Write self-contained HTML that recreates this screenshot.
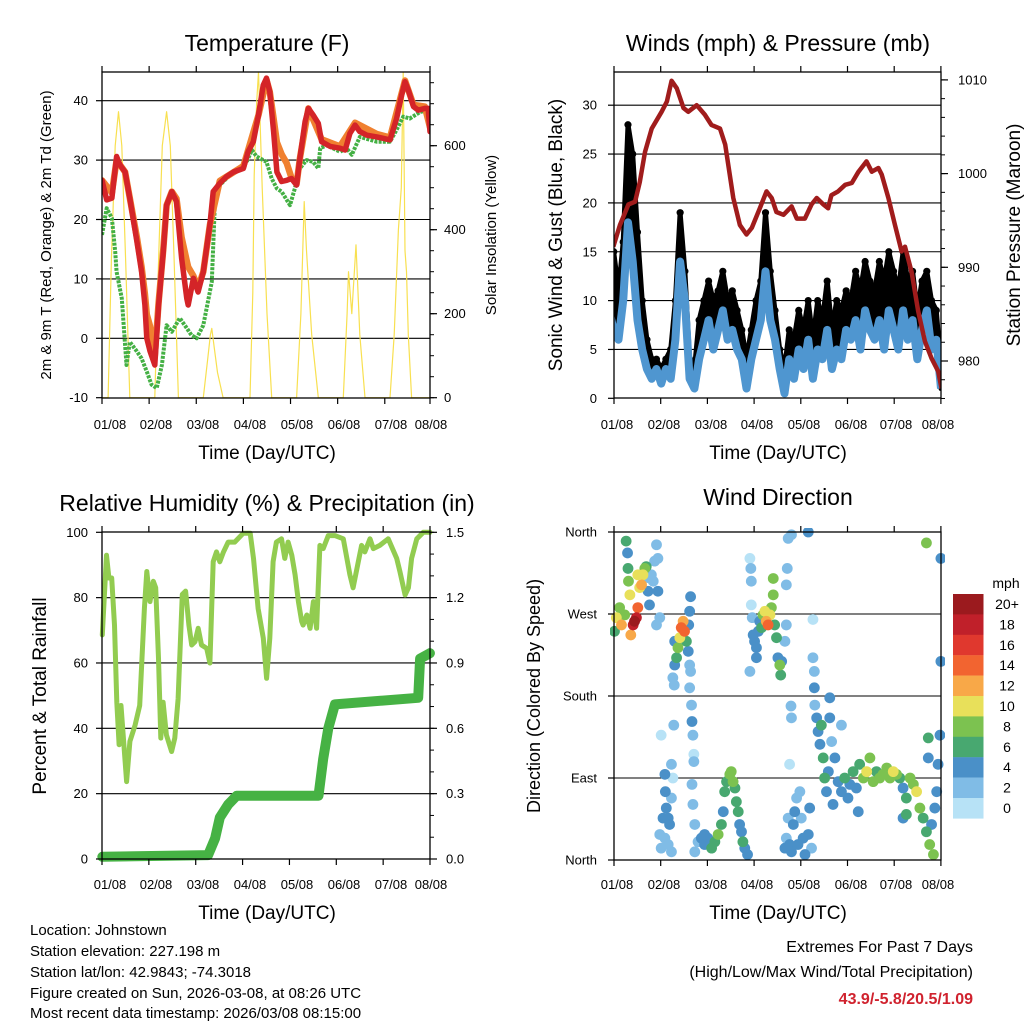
<!DOCTYPE html>
<html><head><meta charset="utf-8">
<style>
html,body{margin:0;padding:0;background:#fff;}
svg{display:block;font-family:"Liberation Sans",sans-serif;}
</style></head>
<body>
<svg id="c" width="1024" height="1024" viewBox="0 0 1024 1024" xmlns="http://www.w3.org/2000/svg">
<rect x="0" y="0" width="1024" height="1024" fill="#fff"/>
<text x="267" y="51" font-size="23" text-anchor="middle">Temperature (F)</text>
<text x="778" y="51" font-size="23" text-anchor="middle">Winds (mph) &amp; Pressure (mb)</text>
<text x="267" y="511" font-size="23" text-anchor="middle">Relative Humidity (%) &amp; Precipitation (in)</text>
<text x="778" y="505" font-size="23" text-anchor="middle">Wind Direction</text>
<text x="267" y="459" font-size="19" text-anchor="middle">Time (Day/UTC)</text>
<text x="778" y="459" font-size="19" text-anchor="middle">Time (Day/UTC)</text>
<text x="267" y="919" font-size="19" text-anchor="middle">Time (Day/UTC)</text>
<text x="778" y="919" font-size="19" text-anchor="middle">Time (Day/UTC)</text>
<text transform="translate(51,235) rotate(-90)" font-size="15" text-anchor="middle">2m &amp; 9m T (Red, Orange) &amp; 2m Td (Green)</text>
<text transform="translate(496,235) rotate(-90)" font-size="15" text-anchor="middle">Solar Insolation (Yellow)</text>
<text transform="translate(562,235) rotate(-90)" font-size="19" text-anchor="middle">Sonic Wind &amp; Gust (Blue, Black)</text>
<text transform="translate(1020,235) rotate(-90)" font-size="19" text-anchor="middle">Station Pressure (Maroon)</text>
<text transform="translate(46,696) rotate(-90)" font-size="19" text-anchor="middle">Percent &amp; Total Rainfall</text>
<text transform="translate(540,696) rotate(-90)" font-size="18" text-anchor="middle">Direction (Colored By Speed)</text>
<g font-size="15">
<text x="30" y="935">Location: Johnstown</text>
<text x="30" y="956">Station elevation: 227.198 m</text>
<text x="30" y="977">Station lat/lon: 42.9843; -74.3018</text>
<text x="30" y="998">Figure created on Sun, 2026-03-08, at 08:26 UTC</text>
<text x="30" y="1018">Most recent data timestamp: 2026/03/08 08:15:00</text>
</g>
<g font-size="16" text-anchor="end">
<text x="973" y="952">Extremes For Past 7 Days</text>
<text x="973" y="977">(High/Low/Max Wind/Total Precipitation)</text>
<text x="973" y="1004" fill="#d0222e" font-weight="bold">43.9/-5.8/20.5/1.09</text>
</g>
</svg>
<script>
// ---- Temperature panel data ----
const tR=[0,.10,.21,.31,.38,.49,.59,.74,.84,.91,.95,1.02,1.12,1.20,1.30,1.37,1.48,1.58,1.69,1.80,1.83,1.94,2.04,2.15,2.29,2.36,2.50,2.64,2.79,3.00,3.10,3.21,3.32,3.42,3.49,3.56,3.64,3.71,3.81,3.92,4.02,4.13,4.20,4.31,4.38,4.48,4.59,4.66,4.84,5.05,5.16,5.26,5.37,5.47,5.62,5.83,6.11,6.25,6.36,6.43,6.50,6.61,6.71,6.85,6.92,6.96];
const vR=[26.6,23.3,23.6,30.6,29.2,28.0,23.6,16.3,11.2,5.6,0.0,-2.2,-4.5,5.6,14.6,22.4,24.7,23.0,13.5,6.7,5.6,10.1,7.8,11.2,19.1,24.7,26.1,27.2,28.0,28.6,31.4,33.1,37.6,42.6,43.8,41.5,34.8,28.0,26.4,26.6,26.9,25.8,30.3,36.5,38.7,37.6,36.2,33.1,32.3,32.0,31.7,34.5,35.9,34.8,34.2,33.9,33.4,37.0,41.0,43.2,41.8,39.0,38.4,38.7,38.7,34.8];
const tO=[0,0.21,0.31,0.49,0.74,0.84,0.91,0.95,1.02,1.12,1.2,1.3,1.37,1.48,1.58,1.69,1.8,1.83,1.94,2.04,2.15,2.29,2.5,3.0,3.32,3.49,3.56,3.64,3.71,3.81,3.92,4.02,4.13,4.2,4.38,4.66,5.05,5.37,5.83,6.11,6.43,6.61,6.85,6.96];
const vO=[26.6,24.5,30,28,17,12,7.5,4,2,-3,6,15,22.4,24.7,23.5,17,13,12,10.5,8.5,11.2,19.1,26.5,29,37.6,43.5,41.5,37,33,31,29.5,27,26,30.3,38.7,33.5,32.3,36.3,34.4,33.8,43.4,39.3,39,35.5];
const tG=[0,.10,.21,.28,.31,.42,.52,.59,.74,.84,.95,1.05,1.16,1.27,1.37,1.48,1.65,1.80,1.90,2.01,2.15,2.33,2.40,2.50,2.64,2.79,3.07,3.18,3.28,3.49,3.60,3.71,3.81,3.99,4.09,4.20,4.34,4.48,4.59,4.63,4.77,5.05,5.19,5.30,5.47,5.83,6.11,6.25,6.39,6.53,6.75,6.92,6.99];
const vG=[17.4,21.9,20.2,14.6,11.2,6.7,-4.5,-0.6,-2.2,-3.4,-5.6,-7.8,-8.4,-4.5,2.2,1.1,3.4,1.7,0.5,0,2.2,9.5,23.6,25.8,26.9,28.0,29.7,31.7,30.6,29.7,26.9,25.2,24.7,22.4,25.2,28.6,30.0,29.7,28.6,32.0,32.5,31.4,32.0,30.9,33.9,33.1,33.1,35.1,37.3,37.0,38.1,38.4,35.9];
const sunT=[0,0.13,0.2,0.28,0.35,0.42,0.5,0.59,1.12,1.2,1.28,1.37,1.45,1.53,1.62,2.15,2.24,2.3,2.33,2.38,2.45,2.57,3.14,3.2,3.23,3.28,3.32,3.4,3.5,3.6,4.13,4.22,4.29,4.34,4.45,4.59,5.12,5.2,5.23,5.3,5.39,5.47,5.58,6.11,6.2,6.29,6.35,6.39,6.43,6.46,6.5,6.57,7.0];
const sunR=[0,0,330,600,681,600,330,0,0,330,600,681,600,330,0,0,90,150,165,120,60,0,0,250,530,700,776,500,200,0,0,200,467,350,150,0,0,200,300,200,364,150,0,0,150,400,500,776,350,300,150,0,0];
const tempTicks=[40,30,20,10,0,-10];
const solarTicks=[0,200,400,600];
const dayLabels=["01/08","02/08","03/08","04/08","05/08","06/08","07/08","08/08"];
// ---- Wind panel data ----
const tP=[.09,.23,.41,.55,.65,.76,.90,1.11,1.22,1.32,1.43,1.57,1.67,1.85,2.02,2.16,2.34,2.45,2.62,2.76,2.90,3.01,3.18,3.32,3.43,3.53,3.68,3.85,3.96,4.13,4.27,4.38,4.52,4.62,4.69,4.83,4.98,5.12,5.26,5.43,5.54,5.68,5.75,5.89,6.03,6.17,6.24,6.38,6.52,6.66,6.80,6.94,7.01];
const vP=[992.2,994.5,996.7,997.0,999.1,1002.3,1004.8,1006.6,1007.7,1009.9,1009.1,1007.0,1006.6,1007.3,1006.3,1005.2,1004.8,1003.1,997.4,994.5,993.5,994.2,996.3,998.1,997.4,995.9,995.6,996.5,995.2,995.2,996.7,997.4,996.7,996.3,997.7,998.1,998.8,999.0,1000.2,1001.3,1000.2,1000.6,999.9,997.4,994.5,991.7,992.2,989.5,985.3,982.1,980.3,978.9,977.1];
const windT=[0,.1,.2,.3,.4,.5,.6,.7,.8,.9,1,1.1,1.2,1.3,1.4,1.5,1.6,1.7,1.8,1.9,2,2.1,2.2,2.3,2.4,2.5,2.6,2.7,2.8,2.9,3,3.1,3.2,3.3,3.4,3.5,3.6,3.7,3.8,3.9,4,4.1,4.2,4.3,4.4,4.5,4.6,4.7,4.8,4.9,5,5.1,5.2,5.3,5.4,5.5,5.6,5.7,5.8,5.9,6,6.1,6.2,6.3,6.4,6.5,6.6,6.7,6.8,6.9,7];
const windV=[9,7,6,10,18,14,8,5,3,2,3,1.5,3,2,6,14,10,2,1,4,6,8,5,7,9,6,7,5,4,1,4,6,8,13,8,6,3,0.5,4,2,5,3,6,2,5,4,7,3,5,4,7,6,8,5,9,7,6,8,5,9,7,5,9,6,8,4,7,9,5,6,1];
const gustV=[14,15,11,16,28,25,17,10,6,4,4,3,4,5,10,19,13,4,3,8,10,12,10,11,13,10,11,9,7,4,7,10,12,19,13,9,5,3,7,6,9,7,10,6,10,8,12,7,10,9,11,10,13,11,14,12,11,14,12,15,13,11,15,12,13,9,12,13,10,9,3];
const windTicks=[0,5,10,15,20,25,30];
const presTicks=[980,990,1000,1010];
// ---- RH panel data ----
const tH=[0,.09,.14,.2,.26,.31,.36,.4,.45,.52,.59,.7,.8,.9,.95,1.02,1.09,1.14,1.2,1.25,1.3,1.37,1.48,1.55,1.62,1.71,1.78,1.85,1.91,1.98,2.05,2.12,2.23,2.3,2.37,2.44,2.51,2.59,2.69,2.83,3.01,3.16,3.23,3.33,3.44,3.51,3.58,3.65,3.72,3.83,3.9,3.97,4.05,4.12,4.19,4.26,4.29,4.37,4.44,4.51,4.58,4.65,4.72,4.83,4.97,5.15,5.29,5.36,5.47,5.54,5.61,5.72,5.79,5.93,6.11,6.29,6.36,6.47,6.54,6.61,6.72,6.86,7.0];
const vH=[68.6,93,86,86,71.6,48,35,47,37,23.7,36,41,47,76.7,88,78.8,85,83,61.4,37,48,38,32.9,37,49,81,82,71.6,65.5,66.5,70.6,65.5,64.5,60,91,94,91,94,97,97,99.7,99.7,92,76.7,67.6,55.3,67.6,91,97,98,92,97,93,87,78.8,72.7,71.6,74.7,70.6,78.8,70.6,96,95,99,99,98,87,83,91,96,94,98,95,96,98,92,88,80.8,83,92,98,100,100];
const tPr=[0,2.26,2.41,2.51,2.69,2.87,4.62,4.72,4.83,4.97,6.75,6.79,7.0];
const vPr=[0.01,0.018,0.095,0.19,0.25,0.29,0.29,0.46,0.6,0.71,0.74,0.92,0.945];
const rhTicks=[0,20,40,60,80,100];
const rainTicks=["0.0","0.3","0.6","0.9","1.2","1.5"];
// ---- Wind direction data ----
const dT=[.01,.05,.12,.16,.23,.26,.29,.30,.31,.34,.36,.41,.44,.48,.51,.51,.55,.59,.62,.66,.69,.73,.76,.80,.84,.87,.91,.94,.91,.98,.94,.73,
1.30,1.34,1.30,1.37,1.41,1.44,1.48,1.51,1.55,1.59,1.62,1.64,1.60,1.26,1.29,1.62,1.62,1.64,1.28,1.66,1.67,1.69,1.71,1.71,1.67,1.69,1.01,
1.09,1.10,1.12,1.16,1.19,1.23,1.26,1.23,.98,1.01,1.16,1.23,1.05,1.09,
1.73,1.80,1.87,1.94,2.01,2.09,2.16,2.23,2.30,2.34,2.37,2.41,2.48,2.51,2.55,2.59,2.62,2.66,2.69,2.73,2.76,2.80,2.86,1.73,1.94,
2.91,2.93,2.94,2.94,2.96,2.98,3.01,3.05,3.09,3.12,3.16,3.19,3.23,3.26,3.30,3.34,3.37,3.41,3.41,3.44,3.48,3.51,3.55,3.57,3.59,3.66,3.69,3.69,3.71,3.73,3.80,2.91,3.05,
3.69,3.73,3.76,3.80,3.84,3.87,3.91,3.94,3.98,4.01,4.05,4.09,4.16,4.19,4.23,3.76,4.16,3.66,3.79,3.80,
4.26,4.26,4.29,4.29,4.30,4.34,4.37,4.41,4.44,4.48,4.51,4.55,4.59,4.62,4.66,4.73,4.80,4.87,4.87,4.69,4.62,
4.94,5.05,5.12,5.19,5.26,5.34,5.41,5.48,5.55,5.62,5.69,5.76,5.84,5.91,5.98,6.05,6.12,6.19,6.26,6.34,6.41,6.48,6.55,6.62,6.69,6.76,6.84,6.80,6.87,6.91,6.94,6.73,6.73,6.98,6.19,6.26,5.01,5.23,6.69,7.0,7.0];
const dDeg=[251,266,277,258,269,350,337,320,306,291,247,258,262,266,277,313,299,302,313,320,322,295,280,313,306,328,346,331,258,266,295,310,
240,222,214,233,244,255,262,251,240,229,273,289,258,200,192,189,214,207,148,170,152,137,116,108,83,61,137,
94,75,57,46,39,105,90,68,28,13,17,9,46,24,
39,20,24,17,24,13,20,28,39,53,75,86,94,97,86,79,64,53,39,31,20,13,6,9,28,
331,320,306,280,266,247,240,233,251,262,255,269,273,262,258,269,277,291,309,258,244,222,214,203,218,240,258,302,320,353,357,207,222,
24,46,17,9,39,53,68,17,75,46,24,6,28,57,13,105,360,13,169,156,
264,222,207,189,170,156,141,127,148,112,90,75,97,178,130,112,86,148,75,61,156,
90,83,97,79,105,90,97,112,86,97,90,94,101,90,97,94,90,79,68,90,83,75,57,46,31,17,6,39,57,75,105,112,134,137,46,50,68,53,348,331,218];
const dSpd=[6,10,8,12,8,6,4,6,8,10,12,18,20,18,14,10,10,12,10,8,6,4,4,2,2,2,2,2,2,2,4,2,
4,6,4,8,10,14,12,14,6,4,4,4,4,2,2,2,2,2,2,2,4,2,0,2,2,2,0,
4,4,4,4,4,2,0,2,2,2,2,2,4,2,
2,2,4,4,4,6,6,8,6,4,6,6,8,8,8,6,6,6,4,4,6,4,4,2,4,
0,2,2,0,2,4,4,4,4,4,6,8,10,12,14,10,8,8,8,6,6,4,8,6,4,2,2,2,2,2,2,2,4,
2,2,4,4,4,4,2,4,2,2,4,4,4,4,2,0,4,4,2,2,
0,2,2,4,2,4,4,4,6,6,6,4,4,4,2,4,4,2,4,4,4,
6,4,6,4,6,8,10,8,8,6,8,8,8,8,10,8,6,4,6,8,8,10,8,6,6,8,8,4,4,4,4,4,6,4,4,6,4,4,8,4,4];
const dirTicks=[360,270,180,90,0];
const dirLabels=["North","West","South","East","North"];
const spdLabels=["20+","18","16","14","12","10","8","6","4","2","0"];
const spdColors=["#b7e2f6","#80bce6","#4a90c8","#48a870","#7cc250","#e8e05a","#f8a848","#f26430","#e0382e","#c0202a","#9b1a1e"];

const svg=document.getElementById('c');
const NS='http://www.w3.org/2000/svg';
function mk(tag,attrs,parent){const e=document.createElementNS(NS,tag);for(const k in attrs)e.setAttribute(k,attrs[k]);(parent||svg).appendChild(e);return e;}
function clip(id,x,y,w,h){const d=mk('defs',{});const c=mk('clipPath',{id:id},d);mk('rect',{x:x,y:y,width:w,height:h},c);}

const P1={x0:102,x1:430,y0:72,y1:398};
const P2={x0:614,x1:941,y0:72,y1:398};
const P3={x0:102,x1:430,y0:532,y1:859};
const P4={x0:614,x1:941,y0:532,y1:860};
const x1=t=>102+47.13*t;
const yT=v=>397.7-(v+10)*5.94;
const yS=v=>397.7-v*0.42;
const x2=t=>609+47.43*t;
const yW=v=>398.3-v*9.77;
const yPr=v=>361-(v-980)*9.37;
const x3=t=>102.3+46.8*t;
const yH=v=>859-v*3.267;
const yRain=v=>859-v/1.5*326.7;
const x4=t=>614+46.7*t;
const yD=v=>860-v/360*328;

clip('c1',P1.x0,P1.y0,P1.x1-P1.x0,P1.y1-P1.y0);
clip('c2',P2.x0,P2.y0,P2.x1-P2.x0,P2.y1-P2.y0);
clip('c3',P3.x0-6,P3.y0-4,P3.x1-P3.x0+12,P3.y1-P3.y0+8);
clip('c4',P4.x0-4,P4.y0-4,P4.x1-P4.x0+8,P4.y1-P4.y0+8);

function frame(P,name){
  const g=mk('g',{});
  
  
  mk('rect',{x:P.x0,y:P.y0,width:P.x1-P.x0,height:P.y1-P.y0,fill:'none',stroke:'#000','stroke-width':1.3},g);
  return g;
}
function hgrid(P,ys,name){
  ys.forEach(y=>{if(y>P.y0+1&&y<P.y1-1){const l=mk('line',{x1:P.x0,x2:P.x1,y1:y,y2:y,stroke:'#000','stroke-width':1.1});
  
  }});
}
function xticks(P,xf,ly,labelPos,name){
  for(let d=0;d<8;d++){const x=Math.min(xf(d),P.x1);
    mk('line',{x1:x,x2:x,y1:P.y1,y2:P.y1+6,stroke:'#000','stroke-width':1.2});
    mk('line',{x1:x,x2:x,y1:P.y0,y2:P.y0-6,stroke:'#000','stroke-width':1.2});
    const t=mk('text',{x:labelPos(d),y:ly,'font-size':13,'text-anchor':'middle'});
    t.textContent=dayLabels[d];
    
    
  }
}
function yticksL(P,vals,yf,labels,lx,name){
  vals.forEach((v,i)=>{const y=yf(v);
    mk('line',{x1:P.x0-6,x2:P.x0,y1:y,y2:y,stroke:'#000','stroke-width':1.2});
    const t=mk('text',{x:lx,y:y+4.5,'font-size':13,'text-anchor':'end'});
    t.textContent=labels?labels[i]:String(v);
    
    
  });
}
function yticksR(P,vals,yf,labels,lx,name,minorStep,lo,hi){
  if(minorStep){for(let v=lo;v<=hi+1e-9;v+=minorStep){const y=yf(v);if(y>=P.y0-0.5&&y<=P.y1+0.5)mk('line',{x1:P.x1,x2:P.x1+4,y1:y,y2:y,stroke:'#000','stroke-width':1});}}
  vals.forEach((v,i)=>{const y=yf(v);
    mk('line',{x1:P.x1,x2:P.x1+7,y1:y,y2:y,stroke:'#000','stroke-width':1.2});
    const t=mk('text',{x:lx,y:y+4.5,'font-size':13,'text-anchor':'start'});
    t.textContent=labels?labels[i]:String(v);
    
    
  });
}
function path(ts,vs,xf,yf){return ts.map((t,i)=>(i?'L':'M')+xf(t).toFixed(1)+','+yf(vs[i]).toFixed(1)).join('');}
const tickPos1=[110,156,203,250,297,344,391,431];
const tickPos2=[617,664,711,757,804,851,896,938];

// ---------- Panel 1 ----------
hgrid(P1,tempTicks.map(yT),'temp');
const g1=mk('g',{'clip-path':'url(#c1)'});


let e;
e=mk('path',{d:path(sunT,sunR,x1,yS),fill:'none',stroke:'#f8e050','stroke-width':1.2,'stroke-linejoin':'round'},g1);


e=mk('path',{d:path(tG,vG,x1,yT),fill:'none',stroke:'#44b044','stroke-width':4,'stroke-dasharray':'3 1.2','stroke-linejoin':'round'},g1);


e=mk('path',{d:path(tO,vO,x1,yT),fill:'none',stroke:'#f08030','stroke-width':6.5,'stroke-linejoin':'round','stroke-linecap':'round'},g1);


e=mk('path',{d:path(tR,vR,x1,yT),fill:'none',stroke:'#d42428','stroke-width':5.5,'stroke-linejoin':'round','stroke-linecap':'round'},g1);


frame(P1,'temp');
xticks(P1,x1,429,d=>tickPos1[d],'temp');
yticksL(P1,tempTicks,yT,null,88,'temp');
yticksR(P1,solarTicks,yS,null,444,'solar',50,0,750);

// ---------- Panel 2 ----------
hgrid(P2,windTicks.map(yW),'wind');
const g2=mk('g',{'clip-path':'url(#c2)'});


const bandD=path(windT,gustV,x2,yW)+windT.slice().reverse().map((t,i)=>'L'+x2(t).toFixed(1)+','+yW(windV[windT.length-1-i]).toFixed(1)).join('')+'Z';
e=mk('path',{d:bandD,fill:'#000',stroke:'#000','stroke-width':5,'stroke-linejoin':'round'},g2);


windT.forEach((t,i)=>{
  const c=mk('circle',{cx:x2(t),cy:yW(gustV[i]),r:3.6,fill:'#000'},g2);
  
  
});
e=mk('path',{d:path(windT,windV,x2,yW),fill:'none',stroke:'#4f96d0','stroke-width':8,'stroke-linejoin':'round'},g2);


e=mk('path',{d:path(tP,vP,x2,yPr),fill:'none',stroke:'#a01c1c','stroke-width':4.5,'stroke-linejoin':'round'},g2);


frame(P2,'wind');
xticks(P2,d=>P2.x0+46.7*d,429,d=>tickPos2[d],'wind');
yticksL(P2,windTicks,yW,null,597,'wind');
yticksR(P2,presTicks,yPr,null,958,'pressure',2,976,1014);

// ---------- Panel 3 ----------
hgrid(P3,rhTicks.map(yH),'rh');
const g3=mk('g',{'clip-path':'url(#c3)'});


e=mk('path',{d:path(tH,vH,x3,yH),fill:'none',stroke:'#92cc50','stroke-width':5,'stroke-linejoin':'round','stroke-linecap':'round'},g3);


e=mk('path',{d:path(tPr,vPr,x3,yRain),fill:'none',stroke:'#46b244','stroke-width':10,'stroke-linejoin':'round','stroke-linecap':'round'},g3);


frame(P3,'rh');
xticks(P3,d=>P3.x0+46.86*d,889,d=>tickPos1[d],'rh');
yticksL(P3,rhTicks,yH,null,88,'rh');
yticksR(P3,[0,0.3,0.6,0.9,1.2,1.5],yRain,rainTicks,446,'rain',0.1,0,1.5);

// ---------- Panel 4 ----------
hgrid(P4,dirTicks.map(yD),'dir');
const g4=mk('g',{'clip-path':'url(#c4)'});


const order=dT.map((_,i)=>i).sort((a,b)=>dSpd[a]-dSpd[b]);
order.forEach(i=>{
  const ci=Math.min(10,Math.floor(dSpd[i]/2));
  const c=mk('circle',{cx:x4(dT[i]),cy:yD(dDeg[i]),r:5.4,fill:spdColors[ci]},g4);
  
  
});
frame(P4,'dir');
xticks(P4,d=>P4.x0+46.7*d,889,d=>tickPos2[d],'dir');
yticksL(P4,dirTicks,yD,dirLabels,597,'dir');
const cb=mk('g',{});


const cbt=mk('text',{x:1006,y:588,'font-size':14,'text-anchor':'middle'},cb);
cbt.textContent='mph';
spdLabels.forEach((lab,i)=>{
  const y=594+i*20.4;
  const r=mk('rect',{x:953,y:y,width:30.5,height:20.6,fill:spdColors[10-i]},cb);
  
  
  const t=mk('text',{x:1007,y:y+15,'font-size':14,'text-anchor':'middle'},cb);
  t.textContent=lab;
  
  
});
</script>
</body></html>
